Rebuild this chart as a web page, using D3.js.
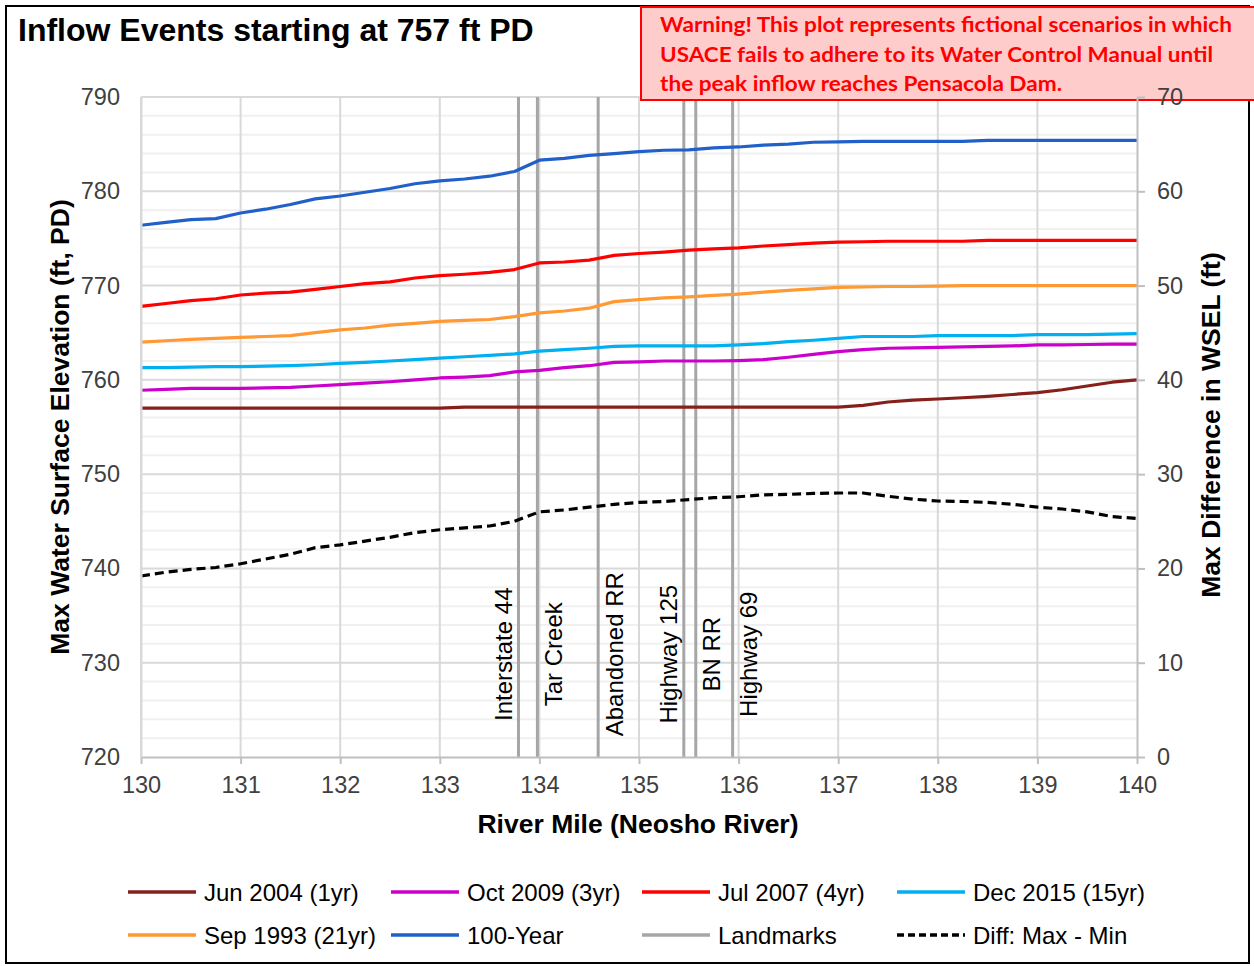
<!DOCTYPE html>
<html>
<head>
<meta charset="utf-8">
<script src="https://cdn.jsdelivr.net/npm/d3@7"></script>
<style>
  html, body { margin: 0; padding: 0; background: #fff; }
  svg { display: block; font-family: "Liberation Sans", Arial, sans-serif; }
</style>
</head>
<body>
<svg id="chart" width="1254" height="966"></svg>
<script>
// River mile stations (Neosho River)
const riverMile = [130, 130.25, 130.5, 130.75, 131, 131.25, 131.5, 131.75, 132, 132.25, 132.5, 132.75,
  133, 133.25, 133.5, 133.75, 134, 134.25, 134.5, 134.75, 135, 135.25, 135.5, 135.75, 136, 136.25,
  136.5, 136.75, 137, 137.25, 137.5, 137.75, 138, 138.25, 138.5, 138.75, 139, 139.25, 139.5, 139.75, 140];

// Max water surface elevation (ft, PD) for each inflow event
const jun2004 = [757.0, 757.0, 757.0, 757.0, 757.0, 757.0, 757.0, 757.0, 757.0, 757.0, 757.0, 757.0,
  757.0, 757.1, 757.1, 757.1, 757.1, 757.1, 757.1, 757.1, 757.1, 757.1, 757.1, 757.1, 757.1, 757.1,
  757.1, 757.1, 757.1, 757.3, 757.65, 757.85, 757.97, 758.1, 758.25, 758.45, 758.65, 758.95, 759.35, 759.75, 760.0];
const oct2009 = [758.9, 759.0, 759.1, 759.1, 759.1, 759.15, 759.2, 759.35, 759.5, 759.65, 759.8, 760.0,
  760.2, 760.3, 760.45, 760.85, 761.0, 761.3, 761.5, 761.85, 761.9, 762.0, 762.0, 762.0, 762.05, 762.15,
  762.4, 762.7, 763.0, 763.2, 763.35, 763.4, 763.45, 763.5, 763.55, 763.6, 763.7, 763.7, 763.75, 763.8, 763.8];
const jul2007 = [767.8, 768.1, 768.4, 768.6, 769.0, 769.2, 769.3, 769.6, 769.9, 770.2, 770.4, 770.8,
  771.05, 771.2, 771.4, 771.7, 772.4, 772.5, 772.7, 773.2, 773.4, 773.55, 773.75, 773.9, 774.0, 774.2,
  774.35, 774.5, 774.6, 774.65, 774.7, 774.7, 774.7, 774.7, 774.8, 774.8, 774.8, 774.8, 774.8, 774.8, 774.8];
const dec2015 = [761.3, 761.3, 761.35, 761.4, 761.4, 761.45, 761.5, 761.6, 761.75, 761.85, 762.0, 762.15,
  762.3, 762.45, 762.6, 762.75, 763.05, 763.2, 763.35, 763.55, 763.6, 763.6, 763.6, 763.6, 763.7, 763.85,
  764.05, 764.2, 764.4, 764.6, 764.6, 764.6, 764.7, 764.7, 764.7, 764.7, 764.8, 764.8, 764.8, 764.85, 764.9];
const sep1993 = [764.0, 764.15, 764.3, 764.4, 764.5, 764.6, 764.7, 765.0, 765.3, 765.5, 765.8, 766.0,
  766.2, 766.3, 766.4, 766.7, 767.1, 767.3, 767.6, 768.3, 768.5, 768.7, 768.8, 768.95, 769.1, 769.3,
  769.5, 769.65, 769.8, 769.85, 769.9, 769.9, 769.95, 770.0, 770.0, 770.0, 770.0, 770.0, 770.0, 770.0, 770.0];
const year100 = [776.4, 776.7, 777.0, 777.1, 777.7, 778.1, 778.6, 779.2, 779.5, 779.9, 780.3, 780.8,
  781.1, 781.3, 781.6, 782.1, 783.3, 783.5, 783.8, 784.0, 784.2, 784.35, 784.4, 784.6, 784.7, 784.9,
  785.0, 785.2, 785.25, 785.3, 785.3, 785.3, 785.3, 785.3, 785.4, 785.4, 785.4, 785.4, 785.4, 785.4, 785.4];

// Difference between highest and lowest event (ft), right axis
const diffMaxMin = [19.2, 19.6, 19.9, 20.1, 20.5, 21.0, 21.5, 22.2, 22.5, 22.9, 23.3, 23.8,
  24.1, 24.3, 24.5, 25.0, 26.0, 26.2, 26.5, 26.8, 27.0, 27.1, 27.3, 27.5, 27.6, 27.8,
  27.85, 27.95, 28.0, 28.0, 27.65, 27.35, 27.15, 27.1, 27.0, 26.8, 26.5, 26.3, 26.0, 25.5, 25.3];

// Landmarks along the river
const landmarkNames = ["Interstate 44", "Tar Creek", "Abandoned RR", "Highway 125", "BN RR", "Highway 69"];
const landmarkMiles = [133.79, 133.98, 134.59, 135.45, 135.57, 135.94];
const landmarkSide = ["left", "right", "right", "left", "right", "right"];

// Axis ticks
const xTicks = [130, 131, 132, 133, 134, 135, 136, 137, 138, 139, 140];
const yLeftTicks = [720, 730, 740, 750, 760, 770, 780, 790];
const yRightTicks = [0, 10, 20, 30, 40, 50, 60, 70];

const seriesNames = ["Jun 2004 (1yr)", "Oct 2009 (3yr)", "Jul 2007 (4yr)", "Dec 2015 (15yr)", "Sep 1993 (21yr)", "100-Year"];
const seriesValues = [jun2004, oct2009, jul2007, dec2015, sep1993, year100];
const seriesColors = ["#86201a", "#cc00cc", "#ff0000", "#00b0f0", "#ff9933", "#2060c8"];

const titleText = "Inflow Events starting at 757 ft PD";
const warningLines = [
  "Warning! This plot represents fictional scenarios in which",
  "USACE fails to adhere to its Water Control Manual until",
  "the peak inflow reaches Pensacola Dam."
];

const svg = d3.select("#chart");
const plotLeft = 141, plotRight = 1137, plotTop = 97, plotBottom = 757;

const x = d3.scaleLinear().domain([130, 140]).range([plotLeft, plotRight]);
const yL = d3.scaleLinear().domain([720, 790]).range([plotBottom, plotTop]);
const yR = d3.scaleLinear().domain([0, 70]).range([plotBottom, plotTop]);

// outer frame
svg.append("rect").attr("x", 6).attr("y", 6).attr("width", 1243).attr("height", 957)
  .attr("fill", "#fff").attr("stroke", "#000").attr("stroke-width", 2);

// title
svg.append("text").attr("x", 18).attr("y", 41)
  .attr("font-size", 32).attr("font-weight", "bold").attr("fill", "#000")
  .text(titleText);

// gridlines
const grid = svg.append("g");
const minor = d3.range(722, 790, 2).filter(v => v % 10 !== 0);
grid.selectAll("line.minor").data(minor).join("line")
  .attr("x1", plotLeft).attr("x2", plotRight)
  .attr("y1", d => yL(d)).attr("y2", d => yL(d))
  .attr("stroke", "#f0f0f0").attr("stroke-width", 2);
grid.selectAll("line.major").data(yLeftTicks.filter(v => v !== 720)).join("line")
  .attr("x1", plotLeft).attr("x2", plotRight)
  .attr("y1", d => yL(d)).attr("y2", d => yL(d))
  .attr("stroke", "#d9d9d9").attr("stroke-width", 2);
grid.selectAll("line.vert").data(xTicks.filter(v => v !== 140)).join("line")
  .attr("x1", d => x(d)).attr("x2", d => x(d))
  .attr("y1", plotTop).attr("y2", plotBottom)
  .attr("stroke", "#d9d9d9").attr("stroke-width", 2);

// landmark lines
const lm = svg.append("g");
lm.selectAll("line").data(landmarkMiles).join("line")
  .attr("x1", d => x(d)).attr("x2", d => x(d))
  .attr("y1", plotTop).attr("y2", plotBottom)
  .attr("stroke", "#a6a6a6").attr("stroke-width", 3);

// landmark labels
const labelY = yL(730.9);
lm.selectAll("text").data(landmarkNames).join("text")
  .attr("transform", (d, i) => {
    const px = x(landmarkMiles[i]) + (landmarkSide[i] === "left" ? -15 : 16);
    return `translate(${px},${labelY}) rotate(-90)`;
  })
  .attr("text-anchor", "middle").attr("dominant-baseline", "central")
  .attr("font-size", 24).attr("fill", "#000")
  .text(d => d);

// event lines
const line = d3.line().x((d, i) => x(riverMile[i])).y(d => yL(d));
svg.append("g").selectAll("path").data(seriesValues).join("path")
  .attr("d", d => line(d))
  .attr("fill", "none")
  .attr("stroke", (d, i) => seriesColors[i])
  .attr("stroke-width", 3.2)
  .attr("stroke-linejoin", "round");

// difference line (right axis)
const diffLine = d3.line().x((d, i) => x(riverMile[i])).y(d => yR(d));
svg.append("path").attr("d", diffLine(diffMaxMin))
  .attr("fill", "none").attr("stroke", "#000").attr("stroke-width", 3.2)
  .attr("stroke-dasharray", "9,5");

// axes
const axisColor = "#bfbfbf";
const tickTextColor = "#404040";
const tickFont = 23.5;

const xAxis = svg.append("g").attr("transform", `translate(0,${plotBottom})`)
  .call(d3.axisBottom(x).tickValues(xTicks).tickSizeInner(7).tickSizeOuter(0).tickPadding(12).tickFormat(d3.format("d")));
xAxis.select(".domain").attr("stroke", axisColor).attr("stroke-width", 2);
xAxis.selectAll(".tick line").attr("stroke", axisColor).attr("stroke-width", 2);
xAxis.selectAll(".tick text").attr("font-size", tickFont).attr("fill", tickTextColor)
  .attr("font-family", "Liberation Sans, Arial, sans-serif");

const yAxisL = svg.append("g").attr("transform", `translate(${plotLeft},0)`)
  .call(d3.axisLeft(yL).tickValues(yLeftTicks).tickSize(0).tickPadding(21).tickFormat(d3.format("d")));
yAxisL.select(".domain").attr("stroke", "#d9d9d9").attr("stroke-width", 2);
yAxisL.selectAll(".tick text").attr("font-size", tickFont).attr("fill", tickTextColor)
  .attr("font-family", "Liberation Sans, Arial, sans-serif");

// warning banner
const warn = svg.append("g");
warn.append("rect").attr("x", 641).attr("y", 7).attr("width", 614).attr("height", 93)
  .attr("fill", "#ffcccc").attr("stroke", "#ff0000").attr("stroke-width", 2);
const warnWidths = [572, 553, 402];
warn.selectAll("text").data(warningLines).join("text")
  .attr("x", 660).attr("y", (d, i) => 32 + i * 29.5)
  .attr("font-family", "Lato, 'Open Sans', sans-serif")
  .attr("font-weight", "bold").attr("font-size", 20).attr("fill", "#ff0000")
  .attr("textLength", (d, i) => warnWidths[i]).attr("lengthAdjust", "spacingAndGlyphs")
  .text(d => d);

const yAxisR = svg.append("g").attr("transform", `translate(${plotRight},0)`)
  .call(d3.axisRight(yR).tickValues(yRightTicks).tickSizeInner(8).tickSizeOuter(0).tickPadding(12).tickFormat(d3.format("d")));
yAxisR.select(".domain").attr("stroke", axisColor).attr("stroke-width", 2);
yAxisR.selectAll(".tick line").attr("stroke", axisColor).attr("stroke-width", 2);
yAxisR.selectAll(".tick text").attr("font-size", tickFont).attr("fill", tickTextColor)
  .attr("font-family", "Liberation Sans, Arial, sans-serif");

// axis titles
const axisTitleFont = 26.5;
svg.append("text").attr("x", 638).attr("y", 833).attr("text-anchor", "middle")
  .attr("font-size", axisTitleFont).attr("font-weight", "bold").attr("fill", "#000")
  .text("River Mile (Neosho River)");
svg.append("text").attr("transform", "translate(60,427) rotate(-90)")
  .attr("text-anchor", "middle").attr("dominant-baseline", "central")
  .attr("font-size", axisTitleFont).attr("font-weight", "bold").attr("fill", "#000")
  .text("Max Water Surface Elevation (ft, PD)");
svg.append("text").attr("transform", "translate(1211,425) rotate(-90)")
  .attr("text-anchor", "middle").attr("dominant-baseline", "central")
  .attr("font-size", axisTitleFont).attr("font-weight", "bold").attr("fill", "#000")
  .text("Max Difference in WSEL (ft)");

// legend
const legendItems = [
  { name: seriesNames[0], color: seriesColors[0], dash: null },
  { name: seriesNames[1], color: seriesColors[1], dash: null },
  { name: seriesNames[2], color: seriesColors[2], dash: null },
  { name: seriesNames[3], color: seriesColors[3], dash: null },
  { name: seriesNames[4], color: seriesColors[4], dash: null },
  { name: seriesNames[5], color: seriesColors[5], dash: null },
  { name: "Landmarks", color: "#a6a6a6", dash: null },
  { name: "Diff: Max - Min", color: "#000", dash: "7,4" }
];
const colSwatch = [128, 391, 642, 897];
const rowY = [892, 935];
const legend = svg.append("g");
const li = legend.selectAll("g").data(legendItems).join("g")
  .attr("transform", (d, i) => `translate(${colSwatch[i % 4]},${rowY[Math.floor(i / 4)]})`);
li.append("line").attr("x1", 0).attr("x2", 68).attr("y1", 0).attr("y2", 0)
  .attr("stroke", d => d.color).attr("stroke-width", 3.5)
  .attr("stroke-dasharray", d => d.dash);
li.append("text").attr("x", 76).attr("y", 0).attr("dominant-baseline", "central")
  .attr("font-size", 24).attr("fill", "#000")
  .text(d => d.name);
</script>
</body>
</html>
